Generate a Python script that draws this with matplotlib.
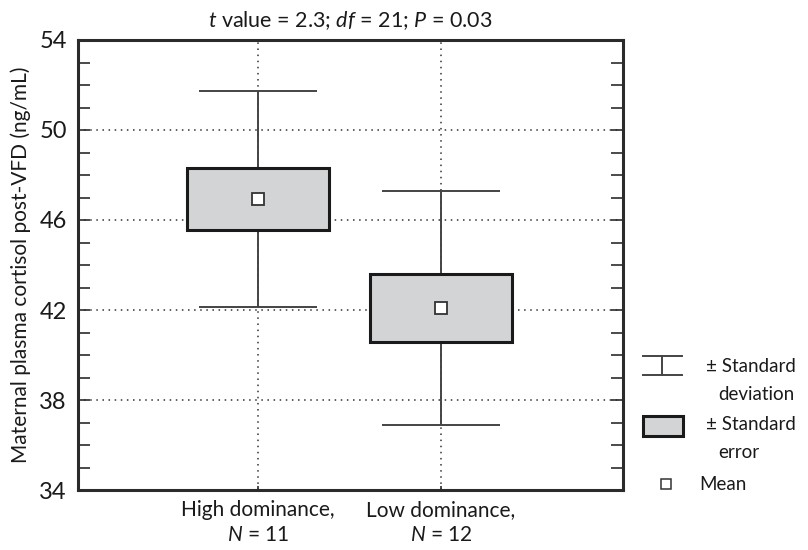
#!/usr/bin/env python3

"""Maternal plasma cortisol after VFD, high vs low dominance:
mean, +/- standard error box and +/- standard deviation whiskers.
"""

import matplotlib
matplotlib.use('Agg')
import matplotlib.pyplot as plt
from matplotlib.lines import Line2D
from matplotlib.patches import Rectangle
from matplotlib.ticker import FixedLocator, MultipleLocator

groups = ['High dominance,\n$\\it{N}$ = 11', 'Low dominance,\n$\\it{N}$ = 12']
means = [46.93, 42.09]
se = [1.37, 1.50]
sd = [4.80, 5.20]
yticks = [34, 38, 42, 46, 50, 54]

plt.rcParams['font.family'] = ['Lato', 'DejaVu Sans']
plt.rcParams['mathtext.fontset'] = 'custom'
plt.rcParams['mathtext.rm'] = 'Lato'
plt.rcParams['mathtext.it'] = 'Lato:italic'

SPINE = '#2b2b2b'
TEXT = '#1a1a1a'
BOX_FILL = '#d3d4d6'

fig = plt.figure(figsize=(8.08, 5.5), dpi=100)
ax = fig.add_axes([78 / 808, 60 / 550, 545 / 808, 450 / 550])

xpos = [1, 2]

# dotted grid first so everything else sits on top
for x in xpos:
    ax.axvline(x, color='#333333', lw=1.1, ls=(0, (1, 3)), zorder=0)
for y in yticks[1:-1]:
    ax.axhline(y, color='#333333', lw=1.1, ls=(0, (1, 3)), zorder=0)

# standard deviation whiskers
lo_sd = [m - s for m, s in zip(means, sd)]
hi_sd = [m + s for m, s in zip(means, sd)]
ax.vlines(xpos, lo_sd, hi_sd, color='#444444', lw=1.4, zorder=1)
for x, lo, hi in zip(xpos, lo_sd, hi_sd):
    ax.hlines([lo, hi], x - 0.32, x + 0.32, color='#444444', lw=1.4, zorder=1)

# standard error boxes
lo_se = [m - s for m, s in zip(means, se)]
ax.bar(xpos, [2 * s for s in se], bottom=lo_se, width=0.78,
       color=BOX_FILL, edgecolor='#1a1a1a', linewidth=2.2, zorder=2)

# means
ax.plot(xpos, means, 's', ms=8, mfc='white', mec='#333333', mew=1.3, zorder=3)

ax.set_xlim(0.016, 2.995)
ax.set_ylim(34, 54)
ax.yaxis.set_major_locator(FixedLocator(yticks))
ax.yaxis.set_minor_locator(MultipleLocator(1))
ax.set_xticks(xpos)
ax.set_xticklabels(groups, fontsize=15, color=TEXT, linespacing=1.35)
ax.tick_params(axis='y', which='both', direction='in', length=8.5, width=1.2,
               color=SPINE, right=True, labelsize=17, pad=8,
               labelcolor=TEXT)
ax.tick_params(axis='x', direction='in', length=3, width=1.2, color=SPINE,
               pad=7)
for sp in ax.spines.values():
    sp.set_linewidth(2.2)
    sp.set_color(SPINE)

ax.set_ylabel('Maternal plasma cortisol post-VFD (ng/mL)', fontsize=15,
              color=TEXT, labelpad=6)
ax.set_title('$\\it{t}$ value = 2.3; $\\it{df}$ = 21; $\\it{P}$ = 0.03',
             fontsize=15.5, color=TEXT, pad=9)

# key drawn in figure pixel coordinates
key = fig.add_axes([0, 0, 1, 1], facecolor='none')
key.set_xlim(0, 808)
key.set_ylim(550, 0)
key.axis('off')
key.add_line(Line2D([643, 682], [356, 356], color='#444444', lw=1.4))
key.add_line(Line2D([643, 682], [375, 375], color='#444444', lw=1.4))
key.add_line(Line2D([662, 662], [356, 375], color='#444444', lw=1.4))
key.add_patch(Rectangle((643, 416), 40, 20, facecolor=BOX_FILL,
                        edgecolor='#1a1a1a', lw=2.2))
key.plot([666], [484], 's', ms=7, mfc='white', mec='#333333', mew=1.1)
txt = dict(fontsize=13.5, color=TEXT, va='center', ha='left')
key.text(706, 367, '\u00b1 Standard', **txt)
key.text(718, 395, 'deviation', **txt)
key.text(706, 424, '\u00b1 Standard', **txt)
key.text(718, 452, 'error', **txt)
key.text(699, 484, 'Mean', **txt)

fig.savefig('out.png', dpi=100)
